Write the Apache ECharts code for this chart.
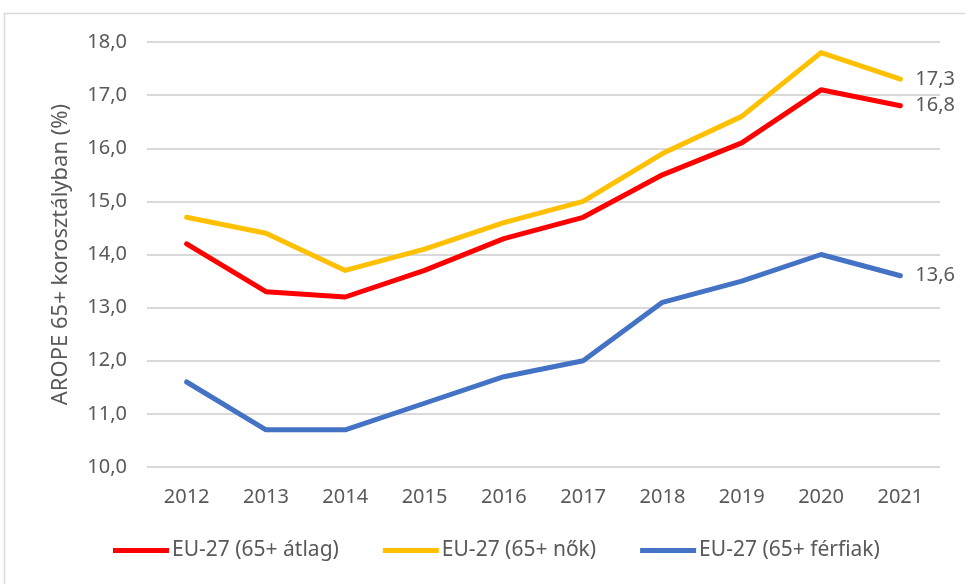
<!DOCTYPE html>
<html><head><meta charset="utf-8">
<script src="https://cdn.jsdelivr.net/npm/echarts@6/dist/echarts.min.js"></script>
<style>html,body{margin:0;padding:0;background:#fff}#c{width:965px;height:584px}</style>
</head><body><div id="c"></div>
<script>
const years = ['2012','2013','2014','2015','2016','2017','2018','2019','2020','2021'];
const atlag = [14.2,13.3,13.2,13.7,14.3,14.7,15.5,16.1,17.1,16.8];
const nok = [14.7,14.4,13.7,14.1,14.6,15.0,15.9,16.6,17.8,17.3];
const ferfiak = [11.6,10.7,10.7,11.2,11.7,12.0,13.1,13.5,14.0,13.6];
const names = ['EU-27 (65+ átlag)','EU-27 (65+ nők)','EU-27 (65+ férfiak)'];
const colors = ['#FF0000','#FFC000','#4472C4'];
const FONT = 'Noto Sans';
const TXT = '#595959';
const FS = 20;
const fmt = v => v.toFixed(1).replace('.', ',');
const chart = echarts.init(document.getElementById('c'));
function mk(name, data, color){
  return {name, type:'line', data, symbol:'none', color,
    lineStyle:{width:5, color, cap:'round', join:'round'},
    endLabel:{show:true, formatter:p=>fmt(p.value), distance:15, color:TXT, fontSize:FS, fontFamily:FONT}};
}
chart.setOption({
  animation:false,
  textStyle:{fontFamily:FONT, color:TXT},
  graphic:[{type:'rect', shape:{x:4.5,y:13.5,width:980,height:600}, style:{fill:'none', stroke:'#d9d9d9', lineWidth:1.5}, silent:true}],
  grid:{left:147, right:25, top:42, bottom:117},
  legend:{bottom:18, left:108, icon:'rect', itemWidth:56, itemHeight:5, itemGap:44,
    textStyle:{fontSize:21, color:TXT, fontFamily:FONT, padding:[0,0,0,-2]}, data:names},
  xAxis:{type:'category', data:years, boundaryGap:true,
    axisLine:{show:false}, axisTick:{show:false},
    axisLabel:{fontSize:FS, color:TXT, margin:20, fontFamily:FONT}},
  yAxis:{type:'value', min:10, max:18, interval:1,
    name:'AROPE 65+ korosztályban (%)', nameLocation:'middle', nameGap:75, nameRotate:90,
    nameTextStyle:{fontSize:22, color:TXT, fontFamily:FONT},
    axisLine:{show:false}, axisTick:{show:false},
    splitLine:{lineStyle:{color:'#d9d9d9', width:2}},
    axisLabel:{fontSize:FS, color:TXT, margin:20, fontFamily:FONT, formatter:v=>fmt(v)}},
  series:[mk(names[0],atlag,colors[0]), mk(names[1],nok,colors[1]), mk(names[2],ferfiak,colors[2])]
});
</script></body></html>
